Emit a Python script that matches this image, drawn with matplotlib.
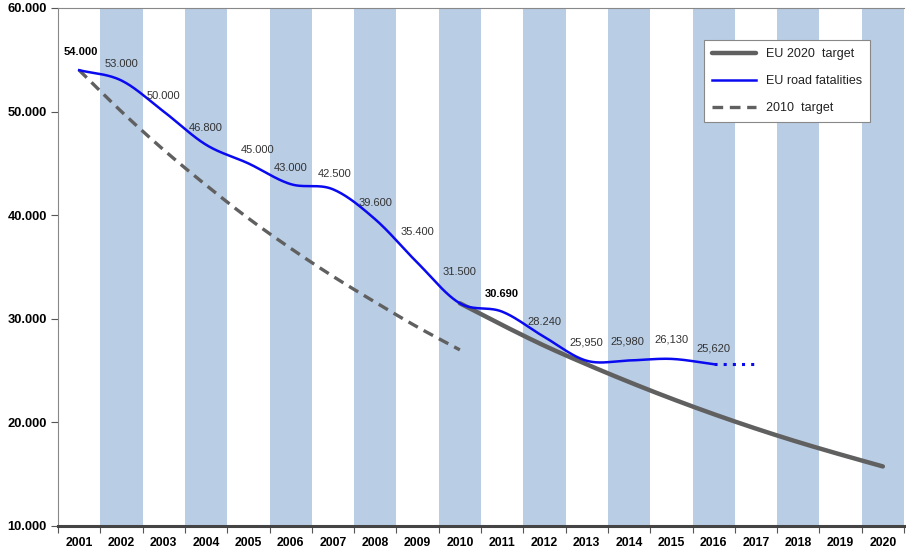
import numpy as np
import matplotlib
matplotlib.use("Agg")
import matplotlib.pyplot as plt

plt.rcParams['font.family'] = ['Liberation Sans', 'DejaVu Sans']

years = list(range(2001, 2021))
fatal_years = list(range(2001, 2017))
fatalities = [54000, 53000, 50000, 46800, 45000, 43000, 42500, 39600, 35400,
              31500, 30690, 28240, 25950, 25980, 26130, 25620]
fatal_labels = ["54.000", "53.000", "50.000", "46.800", "45.000", "43.000", "42.500",
                "39.600", "35.400", "31.500", "30.690", "28.240", "25,950", "25,980",
                "26,130", "25,620"]
bold_labels = {"54.000", "30.690"}
proj_years = [2016, 2017]
proj_values = [25620, 25620]
target2020_years = list(range(2010, 2021))
target2020 = [31500, 29400, 27400, 25600, 23900, 22300, 20800, 19400, 18100, 16900, 15750]
target2010_years = list(range(2001, 2011))
target2010 = [54000, 50000, 46300, 42900, 39700, 36800, 34100, 31600, 29200, 27000]
yticks = [10000, 20000, 30000, 40000, 50000, 60000]
ytick_labels = ["10.000", "20.000", "30.000", "40.000", "50.000", "60.000"]

# label centre offsets in pixels (style)
label_offsets = [(2, 18), (0, 17), (0, 16), (0, 17), (9, 13), (0, 16), (2, 15),
                 (0, 16), (0, 31), (0, 31), (0, 18), (0, 15), (0, 18), (-2, 19),
                 (0, 19), (0, 16)]


def smooth(xs, ys, n=30):
    xs = np.asarray(xs, float)
    ys = np.asarray(ys, float)
    P = np.column_stack([xs, ys])
    P = np.vstack([2 * P[0] - P[1], P, 2 * P[-1] - P[-2]])
    out = []
    for i in range(1, len(P) - 2):
        p0, p1, p2, p3 = P[i - 1], P[i], P[i + 1], P[i + 2]
        t = np.linspace(0, 1, n, endpoint=(i == len(P) - 3))[:, None]
        seg = 0.5 * ((2 * p1) + (-p0 + p2) * t + (2 * p0 - 5 * p1 + 4 * p2 - p3) * t ** 2
                     + (-p0 + 3 * p1 - 3 * p2 + p3) * t ** 3)
        out.append(seg)
    out = np.vstack(out)
    return out[:, 0], out[:, 1]


def xi(yrs):
    return [years.index(y) for y in yrs]


fig = plt.figure(figsize=(9.06, 5.52), dpi=100)
ax = fig.add_axes([58 / 906, 1 - 526 / 552, (904 - 58) / 906, (526 - 8) / 552])

for i, y in enumerate(years):
    if y % 2 == 0:
        ax.axvspan(i - 0.5, i + 0.5, color="#B9CDE5", lw=0, zorder=0)

ax.set_xlim(-0.5, len(years) - 0.5)
ax.set_ylim(10000, 60000)

sx, sy = smooth(xi(target2020_years), target2020)
ax.plot(sx, sy, color="#606060", lw=3.2, solid_capstyle="round", zorder=3,
        label="EU 2020  target")
sx, sy = smooth(xi(fatal_years), fatalities)
ax.plot(sx, sy, color="#0A0AF0", lw=1.8, zorder=4, label="EU road fatalities")
ax.plot(xi(proj_years), proj_values, color="#0A0AF0", lw=2.2, ls=(0, (1, 2.0)), zorder=4)
sx, sy = smooth(xi(target2010_years), target2010)
ax.plot(sx, sy, color="#606060", lw=2.4, ls=(0, (3.2, 2)), zorder=3, label="2010  target")

for x, v, lab, off in zip(xi(fatal_years), fatalities, fatal_labels, label_offsets):
    b = lab in bold_labels
    ax.annotate(lab, (x, v), xytext=(off[0] * 0.72, off[1] * 0.72), textcoords="offset points",
                ha="center", va="center", fontsize=8,
                fontweight="bold" if b else "normal",
                color="#000000" if b else "#333333", zorder=5)

ax.set_yticks(yticks)
ax.set_yticklabels(ytick_labels, fontweight="bold", fontsize=9.3)
ax.set_xticks(range(len(years)))
ax.set_xticklabels([str(y) for y in years], fontweight="bold", fontsize=8.8)
ax.set_xticks(np.arange(-0.5, len(years), 1.0), minor=True)
ax.tick_params(axis="x", which="major", length=0, pad=8)
ax.tick_params(axis="x", which="minor", length=5, width=0.8, color="#555555", direction="out")
ax.tick_params(axis="y", length=5, width=0.8, color="#555555", pad=3)

for s in ["top", "left", "right"]:
    ax.spines[s].set_color("#888888")
    ax.spines[s].set_linewidth(0.8)
ax.spines["right"].set_visible(False)
ax.spines["bottom"].set_color("#444444")
ax.spines["bottom"].set_linewidth(2.2)

leg = ax.legend(loc="upper right", bbox_to_anchor=(870 / 906, 1 - 40 / 552),
                bbox_transform=fig.transFigure, borderaxespad=0, fancybox=False,
                fontsize=9, handlelength=3.5, labelspacing=1.2, borderpad=0.65,
                framealpha=1, edgecolor="#888888")
leg.get_frame().set_linewidth(0.8)
for t in leg.get_texts():
    t.set_color("#222222")

fig.savefig("out.png", dpi=100)
